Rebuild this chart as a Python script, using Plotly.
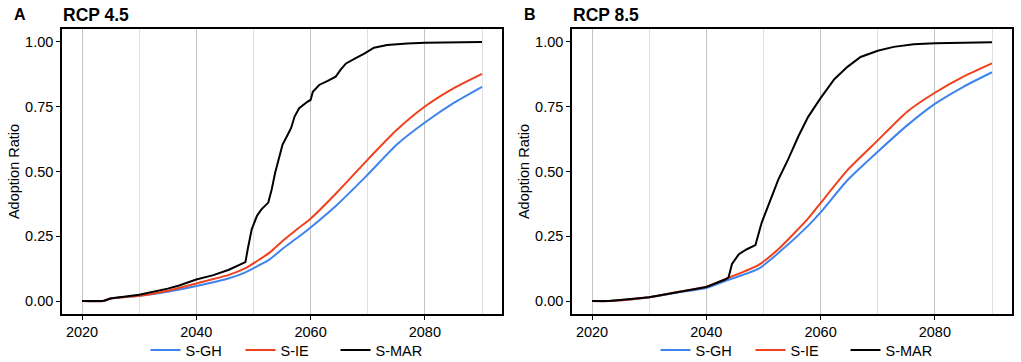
import plotly.graph_objects as go

# ---- data ----
# RCP 4.5
yrs45_mar = [2020, 2023.7, 2025, 2030, 2035, 2037, 2040, 2043, 2045.7, 2048.6, 2049.0, 2049.7, 2050.6, 2051.4,
             2052.6, 2053.2, 2053.8, 2054.6, 2055.1, 2056.0, 2056.6, 2057.2, 2058.0, 2059.5, 2060, 2060.4, 2061.5,
             2063.0, 2064.4, 2065.3, 2066.2, 2067.9, 2069.4, 2071.1, 2073.4, 2076.9, 2080, 2090]
mar45 = [0, 0, 0.01, 0.024, 0.048, 0.06, 0.083, 0.1, 0.121, 0.15, 0.20, 0.277, 0.328, 0.354,
         0.38, 0.431, 0.495, 0.559, 0.604, 0.642, 0.668, 0.712, 0.744, 0.77, 0.776, 0.808, 0.834,
         0.85, 0.866, 0.894, 0.917, 0.938, 0.955, 0.978, 0.988, 0.994, 0.997, 1.0]
yrs45 = [2020, 2023.7, 2025, 2030, 2035, 2040, 2045.7, 2048.6, 2052.9, 2055, 2057.8, 2060, 2064.7, 2070,
         2075.1, 2080, 2085, 2090]
ie45 = [0, 0, 0.01, 0.02, 0.04, 0.068, 0.101, 0.127, 0.188, 0.23, 0.28, 0.318, 0.421, 0.546,
        0.661, 0.751, 0.821, 0.877]
gh45 = [0, 0, 0.01, 0.02, 0.036, 0.058, 0.088, 0.111, 0.162, 0.2, 0.246, 0.284, 0.373, 0.488,
        0.604, 0.689, 0.764, 0.827]

# RCP 8.5
yrs85_mar = [2020, 2023, 2030, 2035, 2040, 2043.5, 2043.9, 2044.5, 2045.7, 2047.1, 2048.6, 2049.7, 2051.2,
             2052.6, 2054.3, 2056.1, 2057.8, 2060, 2062.4, 2064.7, 2067, 2070, 2072.8, 2076.3, 2080, 2090]
mar85 = [0, 0, 0.015, 0.035, 0.054, 0.085, 0.092, 0.143, 0.181, 0.2, 0.216, 0.303, 0.393,
         0.469, 0.546, 0.635, 0.71, 0.783, 0.856, 0.904, 0.942, 0.966, 0.981, 0.991, 0.995, 0.999]
yrs85 = [2020, 2023, 2030, 2035, 2040, 2043.9, 2049.1, 2052.6, 2057.8, 2060, 2064.7, 2070, 2075.1, 2080,
         2085, 2090]
ie85 = [0, 0, 0.015, 0.035, 0.055, 0.09, 0.139, 0.2, 0.318, 0.378, 0.505, 0.62, 0.73, 0.804, 0.866, 0.917]
gh85 = [0, 0, 0.015, 0.033, 0.05, 0.082, 0.124, 0.185, 0.29, 0.342, 0.466, 0.576, 0.677, 0.761, 0.827, 0.883]

series_names = ["S-GH", "S-IE", "S-MAR"]
colors = {"S-GH": "#3d84ee", "S-IE": "#f0401c", "S-MAR": "#000000"}
panel_titles = ["RCP 4.5", "RCP 8.5"]
panel_letters = ["A", "B"]
x_ticks = [2020, 2040, 2060, 2080]
x_minor = [2030, 2050, 2070, 2090]
y_ticks = [0, 0.25, 0.5, 0.75, 1.0]
y_ticktext = ["0.00", "0.25", "0.50", "0.75", "1.00"]

W, H = 1021, 362
FONT = "Liberation Sans, Arial, sans-serif"
FS = 14.5

def px(xp):  # page x -> paper fraction
    return xp / W

def py(yp):  # page y (from top) -> paper fraction
    return 1 - yp / H

fig = go.Figure()
panels = [
    (dict(yrs=yrs45, ie=ie45, gh=gh45, myrs=yrs45_mar, mar=mar45), "x", "y", "legend"),
    (dict(yrs=yrs85, ie=ie85, gh=gh85, myrs=yrs85_mar, mar=mar85), "x2", "y2", "legend2"),
]
for d, xa, ya, lg in panels:
    fig.add_trace(go.Scatter(x=d["yrs"], y=d["gh"], mode="lines", name="S-GH",
                             line=dict(color=colors["S-GH"], width=2, shape="spline", smoothing=0.6),
                             xaxis=xa, yaxis=ya, legend=lg))
    fig.add_trace(go.Scatter(x=d["yrs"], y=d["ie"], mode="lines", name="S-IE",
                             line=dict(color=colors["S-IE"], width=2, shape="spline", smoothing=0.6),
                             xaxis=xa, yaxis=ya, legend=lg))
    fig.add_trace(go.Scatter(x=d["myrs"], y=d["mar"], mode="lines", name="S-MAR",
                             line=dict(color=colors["S-MAR"], width=2), xaxis=xa, yaxis=ya, legend=lg))

ydom = [py(314), py(29)]
xdoms = [[px(62), px(502)], [px(572), px(1012)]]

def xaxis(dom, anchor):
    return dict(domain=dom, anchor=anchor, range=[2016.5, 2093.5], tickvals=x_ticks, automargin=False,
                showgrid=True, gridcolor="#c4c4c4", gridwidth=1.3,
                minor=dict(tickvals=x_minor, showgrid=True, gridcolor="#e0e0e0", gridwidth=1.3, ticks=""),
                showline=True, linecolor="black", linewidth=1.6, mirror=True,
                ticks="outside", ticklen=4, tickcolor="black", tickwidth=1.3,
                tickfont=dict(family=FONT, size=FS, color="black"), zeroline=False)

def yaxis(anchor):
    return dict(domain=ydom, anchor=anchor, range=[-0.05, 1.05], tickvals=y_ticks, ticktext=y_ticktext,
                automargin=False, showgrid=False, showline=True, linecolor="black", linewidth=1.6, mirror=True,
                ticks="outside", ticklen=4, tickcolor="black", tickwidth=1.3,
                tickfont=dict(family=FONT, size=FS, color="black"), zeroline=False,
                title=dict(text="Adoption Ratio", font=dict(family=FONT, size=FS, color="black"), standoff=2))

leg = lambda xc: dict(orientation="h", x=px(xc), xanchor="center", y=py(350), yanchor="middle",
                      font=dict(family=FONT, size=FS, color="black"), bgcolor="rgba(0,0,0,0)",
                      entrywidth=50, tracegroupgap=0)

annotations = []
for i, (letter, title) in enumerate(zip(panel_letters, panel_titles)):
    off = i * 510
    annotations.append(dict(text="<b>%s</b>" % letter, x=px(12 + off), y=py(15), xref="paper", yref="paper",
                            xanchor="left", yanchor="middle", showarrow=False,
                            font=dict(family=FONT, size=16, color="black")))
    annotations.append(dict(text="<b>%s</b>" % title, x=px(61 + off), y=py(15), xref="paper", yref="paper",
                            xanchor="left", yanchor="middle", showarrow=False,
                            font=dict(family=FONT, size=17.5, color="black")))

fig.update_layout(
    width=W, height=H, margin=dict(l=0, r=0, t=0, b=0, autoexpand=False),
    paper_bgcolor="white", plot_bgcolor="white",
    xaxis=xaxis(xdoms[0], "y"), yaxis=yaxis("x"),
    xaxis2=xaxis(xdoms[1], "y2"), yaxis2=yaxis("x2"),
    legend=leg(288), legend2=leg(798),
    annotations=annotations, showlegend=True,
)
# remove the default 8px page margin so the figure fills the window exactly
fig.write_html("out.html", config={"displayModeBar": False},
               post_script="document.body.style.margin='0';document.body.style.overflow='hidden';")
